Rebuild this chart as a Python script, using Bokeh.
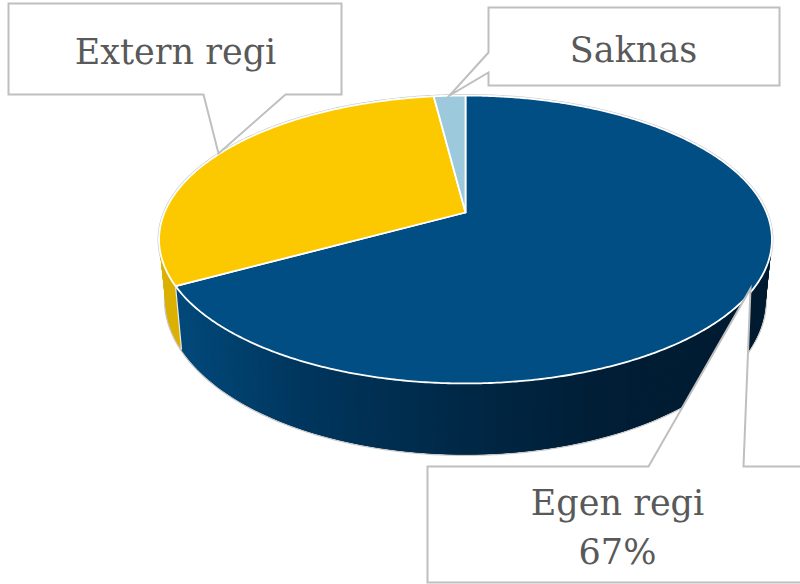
import math
from bokeh.plotting import figure
from bokeh.models import Range1d
from bokeh.core.properties import value
from bokeh.embed import file_html
from bokeh.resources import INLINE

# data
categories = ["Egen regi", "Extern regi", "Saknas"]
shares = [67, 31, 2]
top_colors = ["#004e84", "#fcc900", "#9dc9dc"]
side_colors = [None, "#dcb000", "#88b0c0"]
label_lines = [["Egen regi", "67%"], ["Extern regi"], ["Saknas"]]

# layout (page pixels, y downwards)
W, H = 800, 584
CX, APEX_Y = 465, 212
PERSP = 0.1875
TOP_A, TOP_B = 301, 138.9
LOW_A, LOW_B, LOW_Y = 294.8, 149.5, 270
TEXT_COLOR = "#595959"
BOX_COLOR = "#bfbfbf"
FONT = "DejaVu Serif"
FONT_SIZE = "35px"
grad_stops = [(160, (2, 76, 126)), (300, (0, 54, 94)), (465, (0, 40, 70)), (600, (0, 30, 54)), (780, (0, 27, 48))]

callouts = {
    "Egen regi": ([427, 648, 750, 743, 815, 815, 427], [466, 466, 288, 466, 466, 582, 582]),
    "Extern regi": ([8, 341, 341, 285, 218, 203, 8], [3, 3, 94, 94, 153, 94, 94]),
    "Saknas": ([488, 779, 779, 488, 488, 449, 488], [7, 7, 85, 85, 72, 95, 52]),
}
label_pos = {
    "Egen regi": (617, [502, 551]),
    "Extern regi": (175, [51]),
    "Saknas": (633, [49]),
}


def top_pt(t):
    u, v = math.sin(t), -math.cos(t)
    d = 1 - PERSP * v
    return CX + TOP_A * u / d, APEX_Y + TOP_B * v / d


def low_pt(t):
    u, v = math.sin(t), -math.cos(t)
    d = 1 - PERSP * v
    return CX + LOW_A * u / d, LOW_Y + LOW_B * v / d


def grad(x):
    for (x0, c0), (x1, c1) in zip(grad_stops, grad_stops[1:]):
        if x <= x1:
            f = max(0, (x - x0) / (x1 - x0))
            return "#%02x%02x%02x" % tuple(round(a + (b - a) * f) for a, b in zip(c0, c1))
    return "#%02x%02x%02x" % grad_stops[-1][1]


p = figure(width=W, height=H, x_range=Range1d(0, W), y_range=Range1d(H, 0),
           output_backend="svg", toolbar_location=None, min_border=0,
           outline_line_color=None)
p.xaxis.visible = False
p.yaxis.visible = False
p.grid.visible = False

total = sum(shares)
bounds = [0]
for s in shares:
    bounds.append(bounds[-1] + s / total * 2 * math.pi)

# outer silhouette halo
full = [i * 2 * math.pi / 720 for i in range(721)]
p.line([low_pt(t)[0] for t in full], [low_pt(t)[1] for t in full], line_color="#c8c8c8", line_width=3)
p.line([top_pt(t)[0] for t in full], [top_pt(t)[1] for t in full], line_color="#c8c8c8", line_width=3)

# side walls: each strip overlaps the next one, so no seams show
STEP = math.radians(0.6)
for i, (a, b) in enumerate(zip(bounds, bounds[1:])):
    n = max(1, int((b - a) / STEP))
    for k in range(n):
        t0 = a + (b - a) * k / n
        t1 = min(b, t0 + 3 * (b - a) / n)
        if math.cos((t0 + t1) / 2) > 0.55:
            continue
        p0, p1, q1, q0 = top_pt(t0), top_pt(t1), low_pt(t1), low_pt(t0)
        col = side_colors[i] or grad(p0[0])
        p.patch([p0[0], p1[0], q1[0], q0[0]], [p0[1], p1[1], q1[1], q0[1]],
                fill_color=col, line_color=None)

# top slices
for i, (a, b) in enumerate(zip(bounds, bounds[1:])):
    n = max(2, int((b - a) / math.radians(0.5)))
    pts = [top_pt(a + (b - a) * k / n) for k in range(n + 1)]
    xs = [CX] + [q[0] for q in pts]
    ys = [APEX_Y] + [q[1] for q in pts]
    p.patch(xs, ys, fill_color=top_colors[i], line_color="white", line_width=1.8, line_join="round")

# wall seam at slice boundary
seam = bounds[1]
p.line([top_pt(seam)[0], low_pt(seam)[0]], [top_pt(seam)[1], low_pt(seam)[1]], line_color="#e8e8e8", line_width=1.2)

# callouts
for name in categories:
    xs, ys = callouts[name]
    p.patch(xs, ys, fill_color="white", line_color=BOX_COLOR, line_width=2, line_join="miter")

# labels
for name, lines in zip(categories, label_lines):
    lx, bases = label_pos[name]
    p.text([lx] * len(lines), bases, text=lines, text_font=value(FONT), text_font_size=value(FONT_SIZE),
           text_color=TEXT_COLOR, text_align="center", text_baseline="alphabetic")

open("out.html", "w").write(file_html(p, INLINE))
